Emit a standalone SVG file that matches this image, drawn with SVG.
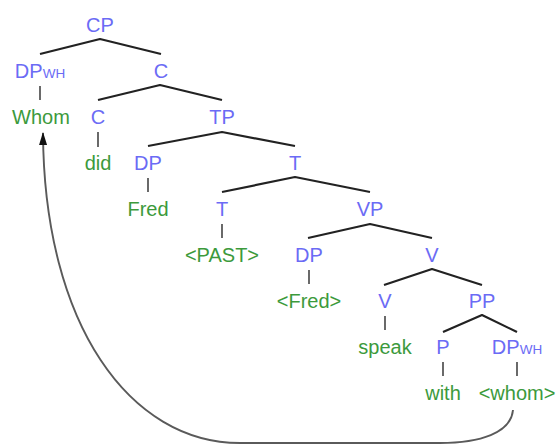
<svg xmlns="http://www.w3.org/2000/svg" width="556" height="446" viewBox="0 0 556 446">
  <style>
    text { font-family: "Liberation Sans", Arial, sans-serif; font-size: 20px; text-anchor: middle; }
    .cat { fill: #6b6bf5; }
    .word { fill: #3c9a3c; }
    .sc { font-size: 13.5px; }
    .branch { stroke: #222; stroke-width: 2.2; fill: none; stroke-linejoin: round; }
    .stem { stroke: #444; stroke-width: 1.6; fill: none; }
    .move { stroke: #5a5a5a; stroke-width: 1.9; fill: none; }
  </style>
  <defs>
    <marker id="arrowhead" viewBox="0 0 13 8" refX="12" refY="4" markerWidth="13" markerHeight="8" markerUnits="userSpaceOnUse" orient="auto">
      <path d="M0,0 L13,4 L0,8 z" fill="#111"/>
    </marker>
  </defs>

  <g id="connectors">
    <path class="branch" d="M40,54 L100,39 L161,54"/>
    <path class="branch" d="M98,100 L160,85 L222,100"/>
    <path class="branch" d="M148,146 L222,132 L295,146"/>
    <path class="branch" d="M222,192 L295,177 L370,192"/>
    <path class="branch" d="M308,238 L370,224 L432,238"/>
    <path class="branch" d="M384,285 L432,269 L482,285"/>
    <path class="branch" d="M443,332 L482,315 L517,332"/>
    <line class="stem" x1="40" y1="86" x2="40" y2="100"/>
    <line class="stem" x1="98" y1="132" x2="98" y2="147"/>
    <line class="stem" x1="148" y1="178" x2="148" y2="192"/>
    <line class="stem" x1="222" y1="224" x2="222" y2="238"/>
    <line class="stem" x1="309" y1="270" x2="309" y2="284"/>
    <line class="stem" x1="385" y1="316" x2="385" y2="330"/>
    <line class="stem" x1="443" y1="362" x2="443" y2="376"/>
    <line class="stem" x1="517" y1="362" x2="517" y2="376"/>
    <!-- movement arrow: trace <whom> back up to Whom -->
    <path class="move" marker-end="url(#arrowhead)" d="M513,410 C511,433 480,443 440,443 L240,443 C130,443 44,325 43,133"/>
  </g>

  <g id="n-cp"><text class="cat" x="100" y="32">CP</text></g>
  <g id="n-dpwh1"><text class="cat" x="40" y="78">DP<tspan class="sc">WH</tspan></text></g>
  <g id="n-cbar"><text class="cat" x="161" y="78">C</text></g>
  <g id="n-whom"><text class="word" x="41" y="124">Whom</text></g>
  <g id="n-c"><text class="cat" x="98" y="124">C</text></g>
  <g id="n-tp"><text class="cat" x="222" y="124">TP</text></g>
  <g id="n-did"><text class="word" x="98" y="170">did</text></g>
  <g id="n-dp1"><text class="cat" x="148" y="170">DP</text></g>
  <g id="n-tbar"><text class="cat" x="295" y="170">T</text></g>
  <g id="n-fred"><text class="word" x="148" y="216">Fred</text></g>
  <g id="n-t"><text class="cat" x="222" y="216">T</text></g>
  <g id="n-vp"><text class="cat" x="370" y="216">VP</text></g>
  <g id="n-past"><text class="word" x="222" y="262">&lt;PAST&gt;</text></g>
  <g id="n-dp2"><text class="cat" x="309" y="262">DP</text></g>
  <g id="n-vbar"><text class="cat" x="432" y="262">V</text></g>
  <g id="n-fred2"><text class="word" x="309" y="308">&lt;Fred&gt;</text></g>
  <g id="n-v"><text class="cat" x="385" y="308">V</text></g>
  <g id="n-pp"><text class="cat" x="482" y="308">PP</text></g>
  <g id="n-speak"><text class="word" x="385" y="354">speak</text></g>
  <g id="n-p"><text class="cat" x="443" y="354">P</text></g>
  <g id="n-dpwh2"><text class="cat" x="517" y="354">DP<tspan class="sc">WH</tspan></text></g>
  <g id="n-with"><text class="word" x="443" y="400">with</text></g>
  <g id="n-whom2"><text class="word" x="517" y="400">&lt;whom&gt;</text></g>
</svg>
